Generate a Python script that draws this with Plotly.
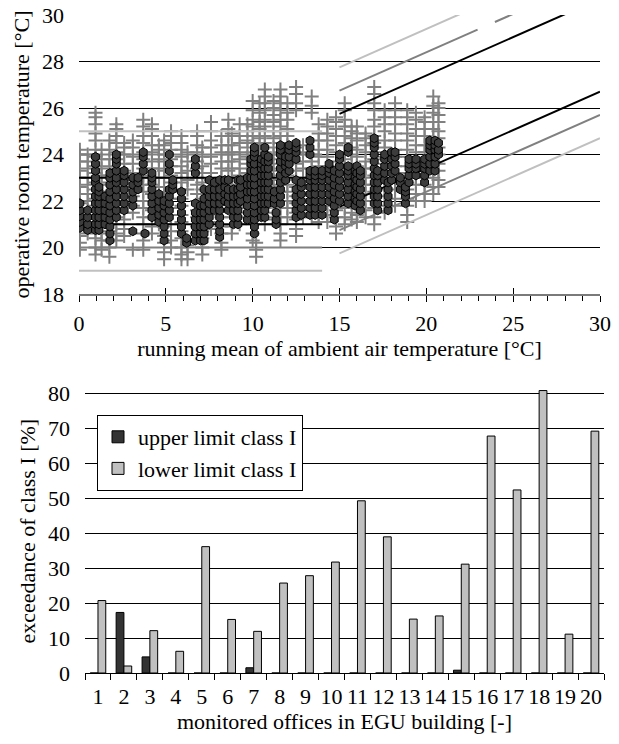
import plotly.graph_objects as go

FONT = "Liberation Serif"

# ---------------- top chart: measured operative temperatures ----------------
# gray crosses: all hourly values (columns of values per running-mean day)
cross_theta = [0.05, 0.5, 0.95, 1.3, 1.75, 2.15, 2.6, 3.1, 3.7, 4.2, 4.6, 4.9,
               5.3, 5.9, 6.25, 6.8, 7.1, 7.6, 8.2, 8.6, 8.8, 9.25, 9.7, 10.0,
               10.2, 10.4, 10.7, 11.2, 11.6, 12.0, 12.5, 12.9, 13.4, 13.8, 14.3,
               14.8, 15.3, 15.7, 16.0, 16.5, 17.0, 17.6, 18.2, 18.9, 19.4, 19.9,
               20.4, 20.7]
cross_temps = [
    [19.9, 20.2, 20.5, 20.9, 21.2, 21.6, 21.9, 22.3, 22.6, 23.0, 23.3, 23.7, 24.0, 24.2],
    [20.6, 20.9, 21.3, 21.6, 22.0, 22.3, 22.7, 23.0, 23.4, 23.7, 24.0],
    [19.7, 20.0, 20.4, 20.7, 21.1, 21.4, 21.8, 22.1, 22.5, 22.8, 23.2, 23.5, 23.9, 24.2, 24.6, 24.9, 25.3, 25.6, 25.8],
    [19.9, 20.3, 20.6, 21.0, 21.3, 21.7, 22.0, 22.4, 22.7, 23.1, 23.4, 23.8, 24.2],
    [19.6, 20.0, 20.3, 20.7, 21.0, 21.4, 21.7, 22.1, 22.4, 22.8, 23.1, 23.5, 23.8, 24.2, 24.6],
    [20.3, 20.6, 21.0, 21.3, 21.7, 22.0, 22.4, 22.7, 23.1, 23.4, 23.8, 24.1, 24.5, 24.8, 25.1, 25.3],
    [20.5, 20.8, 21.2, 21.5, 21.9, 22.2, 22.6, 22.9, 23.3, 23.6, 24.0, 24.3, 24.5],
    [19.9, 21.5, 21.8, 22.2, 22.5, 22.9, 23.2, 23.6, 23.9, 24.3, 24.6],
    [19.9, 20.3, 20.6, 21.0, 21.3, 21.7, 22.0, 22.4, 22.7, 23.1, 23.4, 23.8, 24.1, 24.5, 24.8, 25.2, 25.5],
    [20.6, 20.9, 21.3, 21.6, 22.0, 22.3, 22.7, 23.0, 23.4, 23.7, 24.1, 24.4, 24.8, 25.1, 25.3],
    [21.0, 21.4, 21.8, 22.2, 22.6, 23.0, 23.4, 23.8, 24.2, 24.4],
    [19.5, 19.8, 20.2, 20.5, 20.9, 21.2, 21.6, 21.9, 22.3, 22.6, 23.0, 23.3, 23.7, 24.0, 24.4, 24.6],
    [20.0, 20.3, 20.7, 21.0, 21.4, 21.7, 22.1, 22.4, 22.8, 23.1, 23.5, 23.8, 24.2, 24.5, 24.8, 25.0],
    [19.5, 19.7, 20.0, 20.4, 20.7, 21.1, 21.4, 21.8, 22.1, 22.5, 22.8, 23.2, 23.5, 23.9, 24.2, 24.5, 24.8],
    [19.5, 19.8, 20.1, 22.5, 22.9, 23.3, 23.7, 24.1],
    [20.6, 20.9, 21.3, 21.6, 22.0, 22.3, 22.7, 23.0, 23.4, 23.7, 24.1, 24.4, 24.8, 25.0],
    [19.7, 20.0, 20.4, 20.7, 21.1, 21.4, 21.8, 22.1, 22.5, 22.8, 23.2, 23.5, 23.9, 24.3],
    [20.8, 21.1, 21.5, 21.8, 22.2, 22.5, 22.9, 23.2, 23.6, 23.9, 24.3, 24.6, 25.0, 25.4],
    [19.9, 20.2, 20.6, 20.9, 21.3, 21.6, 22.0, 22.3, 22.7, 23.0, 23.4, 23.7, 24.1, 24.4, 24.8],
    [23.3, 23.7, 24.0, 24.4, 24.8, 25.1, 25.5],
    [20.6, 20.9, 21.3, 21.6, 22.0, 22.3, 22.7, 23.0, 23.4, 23.7, 24.1, 24.4, 24.9],
    [21.0, 21.3, 21.7, 22.0, 22.4, 22.7, 23.1, 23.4, 23.8, 24.1, 24.5, 24.8, 25.3],
    [21.5, 21.8, 22.2, 22.5, 22.9, 23.2, 23.6, 23.9, 24.3, 24.6, 25.0, 25.3],
    [20.3, 20.6, 21.0, 21.3, 21.7, 22.0, 22.4, 22.7, 23.1, 23.4, 23.8, 24.1, 24.5, 24.8, 25.2, 25.5, 25.9, 26.3],
    [19.6, 19.9, 20.2],
    [21.6, 21.9, 22.3, 22.6, 23.0, 23.3, 23.7, 24.0, 24.4, 24.7, 25.1, 25.4, 25.8, 26.2],
    [21.0, 21.3, 21.7, 22.0, 22.4, 22.7, 23.1, 23.4, 23.8, 24.1, 24.5, 24.8, 25.2, 25.5, 25.9, 26.2, 26.5, 26.8],
    [21.2, 21.5, 21.9, 22.2, 22.6, 22.9, 23.3, 23.6, 24.0, 24.3, 24.7, 25.0, 25.4, 25.7, 26.0, 26.3],
    [20.3, 20.6, 21.0, 21.3, 21.7, 22.0, 22.4, 22.7, 23.1, 23.4, 23.8, 24.1, 24.5, 24.8, 25.2, 25.5, 25.9, 26.2, 26.5, 26.8],
    [21.3, 21.7, 22.0, 22.4, 22.7, 23.1, 24.4, 24.8, 25.1, 25.5, 25.8, 26.2],
    [20.5, 20.8, 21.2, 21.5, 21.9, 22.2, 22.6, 22.9, 23.3, 23.6, 24.0, 24.3, 25.9, 26.2, 26.6, 26.9],
    [21.3, 21.6, 22.0, 22.3, 22.7, 23.0, 23.4, 23.7, 24.1, 24.4],
    [21.3, 21.6, 22.0, 22.3, 22.7, 23.0, 23.4, 23.7, 24.0, 25.8, 26.1, 26.5],
    [21.1, 21.4, 21.8, 22.1, 22.5, 22.8, 23.2, 23.5, 23.9, 24.2, 24.6, 24.9, 25.3],
    [21.1, 21.4, 21.8, 22.1, 22.5, 22.8, 23.2, 23.5, 23.9, 24.2, 24.6, 24.9, 25.2, 25.5],
    [20.6, 20.9, 21.3, 21.6, 22.0, 22.3, 22.7, 23.0, 23.4, 23.7, 24.1, 24.4, 24.8, 25.1, 25.4, 25.6],
    [21.0, 21.3, 21.7, 22.0, 22.4, 22.7, 23.1, 23.4, 23.8, 24.1, 24.5, 24.8, 25.2, 25.5, 25.9, 26.2],
    [21.2, 21.5, 21.9, 22.2, 22.6, 22.9, 23.3, 23.6, 24.0, 24.3, 24.7, 25.0, 25.2],
    [21.1, 21.4, 21.8, 22.1, 22.5, 22.8, 23.2, 23.5, 23.9, 24.2, 24.6, 24.9, 25.2],
    [21.3, 21.6, 22.0, 22.3, 22.7, 23.0, 23.4, 23.7, 24.1, 24.4, 24.7, 24.9],
    [21.0, 21.3, 21.7, 22.0, 22.4, 22.7, 23.1, 23.4, 23.8, 24.1, 24.5, 24.8, 25.2, 25.5, 25.9, 26.2, 26.6, 26.9],
    [21.5, 21.8, 22.2, 22.5, 22.9, 23.2, 23.6, 23.9, 24.3, 24.6, 25.0, 25.3, 25.6, 25.9],
    [21.8, 22.1, 22.5, 22.8, 23.2, 23.5, 23.9, 24.2, 24.6, 24.9, 25.3, 25.6, 25.9, 26.2],
    [21.1, 21.4, 21.8, 22.1, 22.5, 22.8, 23.2, 23.5, 23.9, 24.2, 24.6, 24.9, 25.3, 25.6, 25.9],
    [22.0, 22.3, 22.7, 23.0, 23.4, 23.7, 24.1, 24.4, 24.8, 25.1, 25.5, 25.8],
    [22.0, 22.3, 22.7, 23.0, 23.4, 23.7, 24.1, 24.4, 24.8, 25.1, 25.4, 25.6],
    [22.3, 22.6, 23.0, 23.3, 23.7, 24.0, 24.4, 24.7, 25.1, 25.4, 25.8, 26.1, 26.5],
    [22.6, 22.9, 23.3, 23.6, 24.0, 24.3, 24.7, 25.0, 25.4, 25.7, 26.0, 26.2],
]

# dark markers: values during occupancy
dark_theta = [0.05, 0.5, 0.95, 1.15, 1.5, 1.78, 2.15, 2.6, 3.1, 3.4, 3.7, 3.8, 4.2,
              4.6, 4.9, 5.2, 5.4, 5.9, 6.2, 6.7, 7.0, 7.2, 7.5, 7.8, 8.1, 8.4,
              8.6, 8.9, 9.15, 9.3, 9.7, 9.9, 10.1, 10.5, 10.7, 10.9, 11.25, 11.35,
              11.6, 11.9, 12.1, 12.5, 12.8, 13.3, 13.6, 14.0, 14.4, 14.7, 15.0,
              15.5, 15.9, 16.0, 16.2, 17.0, 17.2, 17.6, 17.8, 18.0, 18.2, 18.5,
              18.8, 19.0, 19.4, 19.9, 20.2, 20.5, 20.7]
dark_temps = [
    [20.85, 21.1, 21.35, 21.6, 21.9],
    [20.75, 21.0, 21.3, 21.6],
    [20.75, 21.0, 21.3, 21.6, 21.9, 22.2, 22.5, 22.8, 23.0, 23.3, 23.6, 23.9],
    [20.75, 21.0, 21.3, 21.6, 21.9, 22.2, 22.4, 22.6],
    [21.0, 21.3, 21.6, 21.9, 22.2],
    [20.3, 20.6, 20.9, 21.2, 21.5, 21.8, 22.1, 22.4, 22.7, 23.0, 23.2],
    [21.3, 21.6, 21.9, 22.2, 22.5, 22.8, 23.0, 23.3, 23.6, 23.8, 24.0],
    [21.6, 21.9, 22.2, 22.5, 22.8, 23.1, 23.3],
    [20.7, 21.8, 22.1, 22.4, 22.7, 23.0],
    [22.5, 22.8, 23.0],
    [23.3, 23.6, 23.9, 24.1],
    [20.6],
    [21.3, 21.6, 21.9, 22.2, 22.5, 22.8, 23.0, 23.2],
    [21.1, 21.4, 21.7, 22.0, 22.3],
    [20.3, 20.6, 20.9, 21.2, 21.5, 21.8, 22.0],
    [21.3, 21.6, 21.9, 22.2, 22.5, 23.3, 23.6, 24.0],
    [22.5, 22.7, 22.9],
    [20.6, 20.9, 21.2, 21.5, 21.8, 22.1, 22.4],
    [20.2, 20.4],
    [20.3, 20.6, 20.9, 21.2, 21.5, 21.9, 23.2, 23.5, 23.8],
    [20.3, 20.6, 20.9, 21.2, 21.5, 21.8],
    [20.3, 20.6, 20.9, 21.2, 21.5, 21.8, 22.1, 22.5],
    [21.0, 21.3, 21.6, 21.9, 22.2, 22.5, 22.9],
    [21.6, 21.9, 22.2, 22.5, 22.8],
    [20.45, 20.7, 21.0, 21.3, 21.6, 21.9, 22.2, 22.5, 22.9],
    [22.0, 22.3, 22.6, 22.9],
    [21.6, 21.9, 22.2, 22.5, 22.9],
    [21.0, 21.3, 21.6, 21.9, 22.2, 22.5],
    [21.0, 21.3, 21.6, 21.9, 22.2, 22.5, 22.9],
    [22.0, 22.3, 22.6, 22.9],
    [21.2, 21.5, 21.8, 22.1, 22.4, 22.7, 23.0],
    [22.4, 22.7, 23.0, 23.3, 23.6, 23.8],
    [20.6, 20.9, 21.2, 21.5, 21.8, 22.1, 22.4, 22.7, 23.0, 23.3, 23.6, 23.9, 24.1, 24.3],
    [21.3, 21.6, 21.9, 22.2, 22.5, 22.8, 23.1, 23.4, 23.6, 23.8],
    [21.3, 21.6, 21.9, 22.2, 22.5, 22.8, 23.1, 23.4, 23.7, 24.0, 24.3],
    [21.9, 22.2, 22.5, 22.8, 23.1, 23.4, 23.7, 23.9],
    [21.9, 22.1, 22.4],
    [21.0, 21.2, 21.5],
    [21.9, 22.2, 22.5, 22.8, 23.1, 23.4, 23.7, 24.0, 24.2, 24.4],
    [22.9, 23.2, 23.5, 23.7, 23.9],
    [23.3, 23.6, 23.9, 24.2, 24.4],
    [21.3, 21.6, 21.9, 22.2, 22.5, 22.9, 23.8, 24.1, 24.3, 24.5],
    [21.4, 21.7, 22.0, 22.3, 22.6, 22.8],
    [21.4, 21.7, 22.0, 22.3, 22.6, 22.9, 23.1, 23.3, 24.0, 24.3, 24.6],
    [21.4, 21.7, 22.0, 22.3, 22.6, 22.9, 23.1, 23.3],
    [21.4, 21.7, 22.0, 22.3, 22.6, 22.9, 23.1, 23.3],
    [22.0, 22.3, 22.6, 22.9, 23.2, 23.4, 23.6],
    [21.2, 21.5, 21.8, 22.1, 22.4, 22.7, 23.0, 23.3],
    [22.0, 22.3, 22.6, 22.9, 23.2, 23.5, 23.8, 24.0],
    [21.9, 22.2, 22.5, 22.8, 23.1, 23.3, 23.5, 24.1, 24.3],
    [21.8, 22.1, 22.4, 22.7, 23.0, 23.3],
    [22.0, 22.3, 22.6, 22.9, 23.2, 23.5],
    [21.6, 21.9, 22.2, 22.5, 22.8, 23.1, 23.3],
    [21.9, 22.2, 22.5, 22.8, 23.1, 23.4, 23.7, 24.0, 24.3, 24.5, 24.7],
    [21.6, 21.9, 22.2, 22.5, 22.8, 23.1, 23.3],
    [22.9, 23.2, 23.5, 23.8, 24.0],
    [21.6, 21.9, 22.2, 22.5, 22.8],
    [22.9, 23.2, 23.5, 23.8, 24.1],
    [23.3, 23.6, 23.9, 24.1],
    [22.5, 22.8, 23.0],
    [21.9, 22.2, 22.4, 22.6],
    [22.8, 23.1, 23.4, 23.6, 23.8],
    [23.1, 23.4, 23.6, 23.8],
    [22.8, 23.1, 23.4, 23.6, 23.8],
    [23.3, 23.6, 23.9, 24.2, 24.4, 24.6],
    [23.3, 23.6, 23.9, 24.2, 24.4, 24.6],
    [24.0, 24.2, 24.5],
]

# comfort class limits (horizontal part for low running mean temperatures)
flat_theta = [0, 14]
class1_flat_up = [23, 23]
class1_flat_lo = [21, 21]
class2_flat_up = [24, 24]
class2_flat_lo = [20, 20]
class3_flat_up = [25, 25]
class3_flat_lo = [19, 19]
# adaptive part (running mean 15..30 degC)
slope_theta = [15, 30]
class1_up = [25.75, 30.7]
class1_lo = [21.75, 26.7]
class2_up_theta = [15, 22.95, None, 23.95, 30]
class2_up = [26.75, 29.37, None, 29.70, 31.7]
class2_lo = [20.75, 25.7]
class3_up = [27.75, 32.7]
class3_lo = [19.75, 24.7]

# ---------------- bottom chart: exceedance of class I ----------------
offices = [str(i) for i in range(1, 21)]
upper_exceed = [0, 17.3, 4.6, 0, 0, 0, 1.5, 0, 0, 0, 0, 0, 0, 0, 0.8, 0, 0, 0, 0, 0]
lower_exceed = [20.7, 2.0, 12.1, 6.2, 36.1, 15.3, 11.9, 25.7, 27.8, 31.7, 49.2, 38.9,
                15.4, 16.3, 31.1, 67.7, 52.3, 80.7, 11.1, 69.1]

BLACK = "#000000"
GRAY = "#808080"
LIGHT = "#c0c0c0"
TXT = dict(family=FONT, size=22, color="black")

cx = [t for t, col in zip(cross_theta, cross_temps) for _ in col]
cy = [v for col in cross_temps for v in col]
dx = [t for t, col in zip(dark_theta, dark_temps) for _ in col]
dy = [v for col in dark_temps for v in col]

fig = go.Figure()

fig.add_trace(go.Scatter(
    x=cx, y=cy, mode="markers", showlegend=False, xaxis="x", yaxis="y",
    marker=dict(symbol="cross-thin", size=10, color="#808080",
                line=dict(color="#808080", width=2)),
))


def limit_line(x, y, color):
    fig.add_trace(go.Scatter(x=x, y=y, mode="lines", showlegend=False,
                             xaxis="x", yaxis="y", connectgaps=False,
                             line=dict(color=color, width=2)))


limit_line(flat_theta, class3_flat_up, LIGHT)
limit_line(flat_theta, class3_flat_lo, LIGHT)
limit_line(flat_theta, class2_flat_up, GRAY)
limit_line(flat_theta, class2_flat_lo, GRAY)
limit_line(flat_theta, class1_flat_up, BLACK)
limit_line(flat_theta, class1_flat_lo, BLACK)
limit_line(slope_theta, class3_up, LIGHT)
limit_line(slope_theta, class3_lo, LIGHT)
limit_line(class2_up_theta, class2_up, GRAY)
limit_line(slope_theta, class2_lo, GRAY)
limit_line(slope_theta, class1_up, BLACK)
limit_line(slope_theta, class1_lo, BLACK)

fig.add_trace(go.Scatter(
    x=dx, y=dy, mode="markers", showlegend=False, xaxis="x", yaxis="y",
    marker=dict(symbol="hexagon", size=9, color="#3c3c3c",
                line=dict(color="#000000", width=1)),
))

# overlay axis carrying the upward half of the major ticks
fig.add_trace(go.Scatter(x=[], y=[], xaxis="x3", yaxis="y", showlegend=False))

fig.add_trace(go.Bar(
    x=offices, y=upper_exceed, name="upper limit class I", xaxis="x2", yaxis="y2",
    marker=dict(color="#333333", line=dict(color="black", width=1)),
))
fig.add_trace(go.Bar(
    x=offices, y=lower_exceed, name="lower limit class I", xaxis="x2", yaxis="y2",
    marker=dict(color="#c0c0c0", line=dict(color="black", width=1)),
))

W, H = 619, 744
top_dom_x = [79 / W, 600 / W]
top_dom_y = [1 - 294 / H, 1 - 15 / H]
bot_dom_x = [85 / W, 604 / W]
bot_dom_y = [1 - 673 / H, 1 - 389.5 / H]

fig.update_layout(
    template="none",
    width=W, height=H,
    margin=dict(l=0, r=0, t=0, b=0, autoexpand=False),
    paper_bgcolor="white", plot_bgcolor="white",
    font=TXT,
    barmode="group", bargap=0.4, bargroupgap=0,
    xaxis=dict(
        domain=top_dom_x, anchor="y", range=[0, 30],
        tickmode="array", tickvals=[0, 5, 10, 15, 20, 25, 30], tickfont=TXT,
        ticks="outside", ticklen=6, tickcolor="black", tickwidth=1,
        minor=dict(dtick=1, ticks="outside", ticklen=5, tickcolor="black", tickwidth=1, showgrid=False),
        showline=True, linecolor="#7a7a7a", linewidth=2,
        showgrid=False, zeroline=False, ticklabelstandoff=3, automargin=False,
        title=dict(text="running mean of ambient air temperature [°C]", standoff=0, font=TXT),
    ),
    xaxis3=dict(
        overlaying="x", anchor="y", range=[0, 30], side="bottom",
        tickmode="array", tickvals=[0, 5, 10, 15, 20, 25, 30],
        ticks="inside", ticklen=6, tickcolor="black", tickwidth=1,
        showticklabels=False, showgrid=False, zeroline=False, showline=False,
    ),
    yaxis=dict(
        domain=top_dom_y, anchor="x", range=[18, 30], dtick=2, tick0=18, tickfont=TXT,
        showgrid=True, gridcolor="black", gridwidth=1,
        zeroline=False, showline=False, ticks="", ticklabelstandoff=14, automargin=False,
        title=dict(text="operative room temperature [°C]", standoff=6, font=TXT),
    ),
    xaxis2=dict(
        domain=bot_dom_x, anchor="y2", type="category", tickangle=0, tickfont=TXT,
        tickmode="linear", tick0=0, dtick=1,
        tickson="boundaries", ticks="outside", ticklen=6, tickcolor="black",
        showline=True, linecolor="black", linewidth=1,
        showgrid=False, zeroline=False, ticklabelstandoff=4, automargin=False,
        title=dict(text="monitored offices in EGU building [-]", standoff=0, font=TXT),
    ),
    yaxis2=dict(
        domain=bot_dom_y, anchor="x2", range=[0, 81], tickfont=TXT,
        tickmode="array", tickvals=[0, 10, 20, 30, 40, 50, 60, 70, 80],
        showgrid=True, gridcolor="black", gridwidth=1,
        zeroline=False, showline=False, ticks="", ticklabelstandoff=14, automargin=False,
        title=dict(text="exceedance of class I [%]", standoff=6, font=TXT),
    ),
    legend=dict(
        x=97 / W, y=1 - 415 / H, xanchor="left", yanchor="top",
        bgcolor="white", bordercolor="black", borderwidth=1,
        font=TXT, tracegroupgap=0, itemwidth=30,
    ),
)

fig.write_html("out.html", config={"displayModeBar": False},
               post_script="document.body.style.margin='0';document.body.style.overflow='hidden';")
